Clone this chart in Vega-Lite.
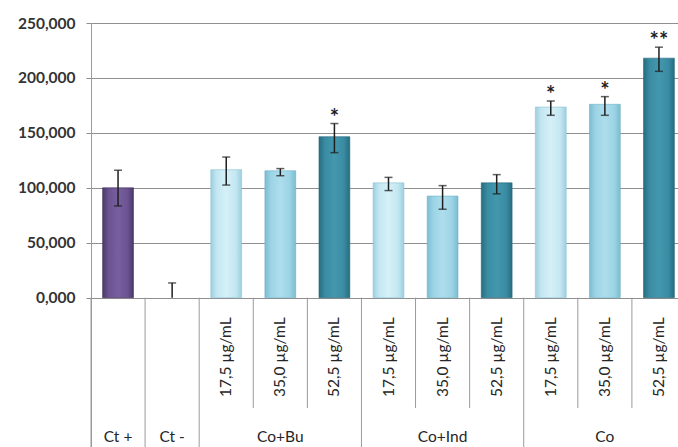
{
  "$schema": "https://vega.github.io/schema/vega-lite/v6.json",
  "autosize": "none",
  "width": 587,
  "height": 424,
  "padding": {"left": 91, "top": 23, "right": 0, "bottom": 0},
  "background": "white",
  "config": {
    "view": {"stroke": null},
    "locale": {"number": {"decimal": ",", "thousands": ".", "grouping": [3], "currency": ["", ""]}},
    "font": "Lato"
  },
  "data": {
    "values": [
      {"id": "Ct +", "group": "Ct +", "conc": "", "value": 100, "lo": 83.5, "hi": 116, "sig": ""},
      {"id": "Ct -", "group": "Ct -", "conc": "", "value": 0, "lo": 0, "hi": 13.4, "sig": ""},
      {"id": "Co+Bu 17,5", "group": "Co+Bu", "conc": "17,5 µg/mL", "value": 116.5, "lo": 102.5, "hi": 128, "sig": ""},
      {"id": "Co+Bu 35,0", "group": "Co+Bu", "conc": "35,0 µg/mL", "value": 115.5, "lo": 111, "hi": 117.5, "sig": ""},
      {"id": "Co+Bu 52,5", "group": "Co+Bu", "conc": "52,5 µg/mL", "value": 146.5, "lo": 132, "hi": 158.5, "sig": "*"},
      {"id": "Co+Ind 17,5", "group": "Co+Ind", "conc": "17,5 µg/mL", "value": 104.5, "lo": 97.5, "hi": 109.5, "sig": ""},
      {"id": "Co+Ind 35,0", "group": "Co+Ind", "conc": "35,0 µg/mL", "value": 92.5, "lo": 80.5, "hi": 102, "sig": ""},
      {"id": "Co+Ind 52,5", "group": "Co+Ind", "conc": "52,5 µg/mL", "value": 104.5, "lo": 94.5, "hi": 112, "sig": ""},
      {"id": "Co 17,5", "group": "Co", "conc": "17,5 µg/mL", "value": 173.5, "lo": 166, "hi": 179, "sig": "*"},
      {"id": "Co 35,0", "group": "Co", "conc": "35,0 µg/mL", "value": 176, "lo": 166, "hi": 183, "sig": "*"},
      {"id": "Co 52,5", "group": "Co", "conc": "52,5 µg/mL", "value": 218, "lo": 206, "hi": 228, "sig": "**"}
    ]
  },
  "encoding": {
    "x": {
      "field": "id",
      "type": "nominal",
      "axis": null,
      "scale": {
        "domain": ["Ct +", "Ct -", "Co+Bu 17,5", "Co+Bu 35,0", "Co+Bu 52,5", "Co+Ind 17,5", "Co+Ind 35,0", "Co+Ind 52,5", "Co 17,5", "Co 35,0", "Co 52,5"],
        "range": [0, 595],
        "paddingInner": 0,
        "paddingOuter": 0
      }
    }
  },
  "layer": [
    {
      "mark": {"type": "rule", "color": "#9a9a9a", "strokeWidth": 1},
      "transform": [{"filter": "datum.conc == '' || datum.conc == '17,5 µg/mL'"}],
      "encoding": {
        "x": {"field": "id", "type": "nominal", "bandPosition": 0},
        "y": {"datum": 0, "type": "quantitative"},
        "y2": {"datum": -135.9}
      }
    },
    {
      "mark": {"type": "rule", "color": "#9a9a9a", "strokeWidth": 1},
      "transform": [{"filter": "datum.conc == '35,0 µg/mL' || datum.conc == '52,5 µg/mL'"}],
      "encoding": {
        "x": {"field": "id", "type": "nominal", "bandPosition": 0},
        "y": {"datum": 0, "type": "quantitative"},
        "y2": {"datum": -100.4}
      }
    },
    {
      "mark": {"type": "bar", "width": {"band": 0.57}, "stroke": "#3e2c58", "strokeWidth": 0.6,
        "fill": {"gradient": "linear", "x1": 0, "x2": 1, "y1": 0, "y2": 0,
          "stops": [{"offset": 0, "color": "#4d3a6c"}, {"offset": 0.2, "color": "#6c5392"}, {"offset": 0.5, "color": "#7760a0"}, {"offset": 0.8, "color": "#6c5392"}, {"offset": 1, "color": "#4d3a6c"}]}},
      "transform": [{"filter": "datum.group == 'Ct +'"}],
      "encoding": {
        "y": {
          "field": "value",
          "type": "quantitative",
          "scale": {"domain": [-135.9, 250], "nice": false, "zero": false},
          "axis": {
            "values": [0, 50, 100, 150, 200, 250],
            "format": ".3f",
            "title": null,
            "grid": true,
            "gridColor": "#8f8f8f",
            "gridWidth": 1,
            "domainColor": "#9a9a9a",
            "domainWidth": 1,
            "tickColor": "#8f8f8f",
            "tickSize": 5,
            "labelPadding": 11,
            "labelFont": "Lato",
            "labelFontSize": 15.5,
            "labelFontWeight": "bold",
            "labelColor": "#333333"
          }
        },
        "y2": {"datum": 0}
      }
    },
    {
      "mark": {"type": "bar", "width": {"band": 0.57}, "stroke": "#8cc3d4", "strokeWidth": 0.6,
        "fill": {"gradient": "linear", "x1": 0, "x2": 1, "y1": 0, "y2": 0,
          "stops": [{"offset": 0, "color": "#9fcfdf"}, {"offset": 0.2, "color": "#c4e7f2"}, {"offset": 0.5, "color": "#d5f0f8"}, {"offset": 0.8, "color": "#c4e7f2"}, {"offset": 1, "color": "#9fcfdf"}]}},
      "transform": [{"filter": "datum.conc == '17,5 µg/mL'"}],
      "encoding": {"y": {"field": "value", "type": "quantitative"}, "y2": {"datum": 0}}
    },
    {
      "mark": {"type": "bar", "width": {"band": 0.57}, "stroke": "#6fb2c8", "strokeWidth": 0.6,
        "fill": {"gradient": "linear", "x1": 0, "x2": 1, "y1": 0, "y2": 0,
          "stops": [{"offset": 0, "color": "#7dbcd1"}, {"offset": 0.2, "color": "#9cd4e6"}, {"offset": 0.5, "color": "#aedded"}, {"offset": 0.8, "color": "#9cd4e6"}, {"offset": 1, "color": "#7dbcd1"}]}},
      "transform": [{"filter": "datum.conc == '35,0 µg/mL'"}],
      "encoding": {"y": {"field": "value", "type": "quantitative"}, "y2": {"datum": 0}}
    },
    {
      "mark": {"type": "bar", "width": {"band": 0.57}, "stroke": "#24667a", "strokeWidth": 0.6,
        "fill": {"gradient": "linear", "x1": 0, "x2": 1, "y1": 0, "y2": 0,
          "stops": [{"offset": 0, "color": "#276d81"}, {"offset": 0.2, "color": "#3a8ca3"}, {"offset": 0.5, "color": "#4398ae"}, {"offset": 0.8, "color": "#3a8ca3"}, {"offset": 1, "color": "#276d81"}]}},
      "transform": [{"filter": "datum.conc == '52,5 µg/mL'"}],
      "encoding": {"y": {"field": "value", "type": "quantitative"}, "y2": {"datum": 0}}
    },
    {
      "mark": {"type": "rule", "color": "#1e1e1e", "strokeWidth": 1.5},
      "encoding": {"y": {"field": "lo", "type": "quantitative"}, "y2": {"field": "hi"}}
    },
    {
      "mark": {"type": "tick", "color": "#1e1e1e", "size": 8, "thickness": 1.5},
      "encoding": {"y": {"field": "hi", "type": "quantitative"}}
    },
    {
      "mark": {"type": "tick", "color": "#1e1e1e", "size": 8, "thickness": 1.5},
      "transform": [{"filter": "datum.lo > 0"}],
      "encoding": {"y": {"field": "lo", "type": "quantitative"}}
    },
    {
      "mark": {"type": "text", "font": "Lato", "fontSize": 22, "fontWeight": "bold", "color": "#1e1e1e", "baseline": "alphabetic", "dy": 1},
      "transform": [{"filter": "datum.sig != ''"}],
      "encoding": {"y": {"field": "hi", "type": "quantitative"}, "text": {"field": "sig"}}
    },
    {
      "mark": {"type": "text", "font": "Lato", "fontSize": 15.5, "color": "#262626", "angle": 270, "align": "center", "baseline": "middle"},
      "transform": [{"filter": "datum.conc != ''"}],
      "encoding": {"y": {"datum": -54.2, "type": "quantitative"}, "text": {"field": "conc"}}
    },
    {
      "mark": {"type": "text", "font": "Lato", "fontSize": 15.5, "color": "#262626", "align": "center", "baseline": "middle"},
      "transform": [{"filter": "datum.conc == '' || datum.conc == '35,0 µg/mL'"}],
      "encoding": {"y": {"datum": -126.8, "type": "quantitative"}, "text": {"field": "group"}}
    }
  ]
}
